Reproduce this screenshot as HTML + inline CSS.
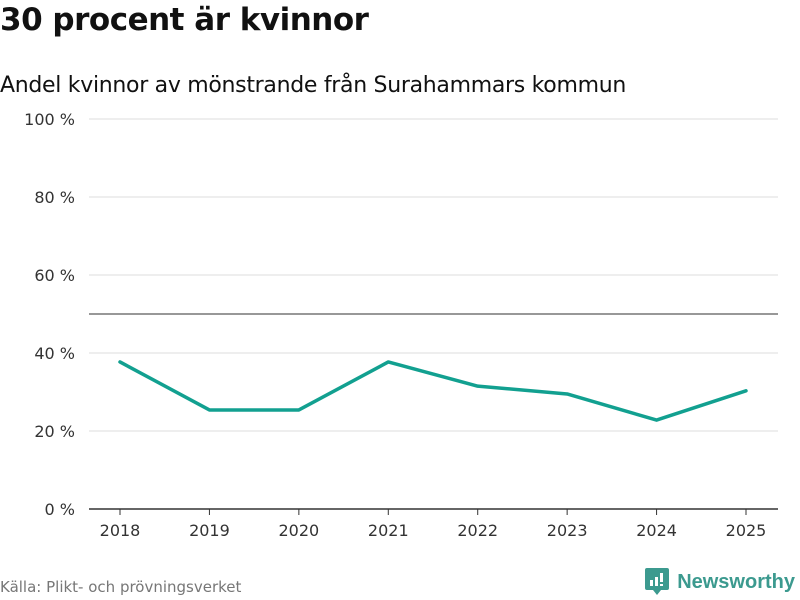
<!DOCTYPE html>
<html><head><meta charset="utf-8"><style>
body{margin:0;width:800px;height:600px;background:#fff;font-family:"DejaVu Sans","Liberation Sans",sans-serif;overflow:hidden;position:relative}
.t{position:absolute;left:0;top:2px;font-size:31px;font-weight:bold;color:#111;letter-spacing:-0.5px}
.s{position:absolute;left:0;top:73px;font-size:22px;color:#111;letter-spacing:-0.3px}
.src{position:absolute;left:0;top:578px;font-size:15px;color:#777}
.logo{position:absolute;right:5px;top:568px;display:flex;align-items:center;gap:8px;color:#3c9a8f;font-size:20px;font-weight:bold;font-family:"Liberation Sans",sans-serif}
</style></head><body>
<div class="t">30 procent är kvinnor</div>
<div class="s">Andel kvinnor av mönstrande från Surahammars kommun</div>
<svg id="c" width="800" height="600" style="position:absolute;left:0;top:0"></svg>
<div class="src">Källa: Plikt- och prövningsverket</div>
<div class="logo">
<svg width="24" height="28" viewBox="0 0 24 28"><path d="M2 0h20a2 2 0 0 1 2 2v18a2 2 0 0 1-2 2h-6l-4 5-4-5H2a2 2 0 0 1-2-2V2a2 2 0 0 1 2-2z" fill="#3c9a8f"/><rect x="5" y="12" width="3" height="6" fill="#fff"/><rect x="10" y="9" width="3" height="9" fill="#fff"/><rect x="15" y="5" width="3" height="9" fill="#fff"/><rect x="15" y="16" width="3" height="2" fill="#fff"/></svg>
<span>Newsworthy</span></div>
<script>
const years=["2018","2019","2020","2021","2022","2023","2024","2025"];
const shares=[37.7,25.4,25.4,37.7,31.5,29.5,22.8,30.3];
const yTicks=[0,20,40,60,80,100];
const ns="http://www.w3.org/2000/svg",svg=document.getElementById('c');
const x0=89,x1=778,y0=509,y1=119;
const xs=i=>120+i*(746-120)/(years.length-1);
const ys=v=>y0-(v/100)*(y0-y1);
function mk(t,a){const e=document.createElementNS(ns,t);for(const k in a)e.setAttribute(k,a[k]);svg.appendChild(e);return e;}
yTicks.forEach(v=>{
 const l=mk('line',{x1:x0,x2:x1,y1:ys(v),y2:ys(v),stroke:v==0?'#333':'#ddd','stroke-width':v==0?1.5:1});
 
 
 const t=mk('text',{x:75,y:ys(v)+6,'text-anchor':'end','font-size':16,fill:'#333'});t.textContent=v+' %';
 
 
});
const r=mk('line',{x1:x0,x2:x1,y1:ys(50),y2:ys(50),stroke:'#777','stroke-width':1.5});


years.forEach((y,i)=>{
 const tk=mk('line',{x1:xs(i),x2:xs(i),y1:y0,y2:y0+6,stroke:'#333'});
 
 
 const t=mk('text',{x:xs(i),y:536,'text-anchor':'middle','font-size':16,fill:'#333'});t.textContent=y;
 
 
});
const p=mk('polyline',{points:shares.map((v,i)=>xs(i)+','+ys(v)).join(' '),fill:'none',stroke:'#12a090','stroke-width':3.5,'stroke-linejoin':'round','stroke-linecap':'round'});


</script>
</body></html>
